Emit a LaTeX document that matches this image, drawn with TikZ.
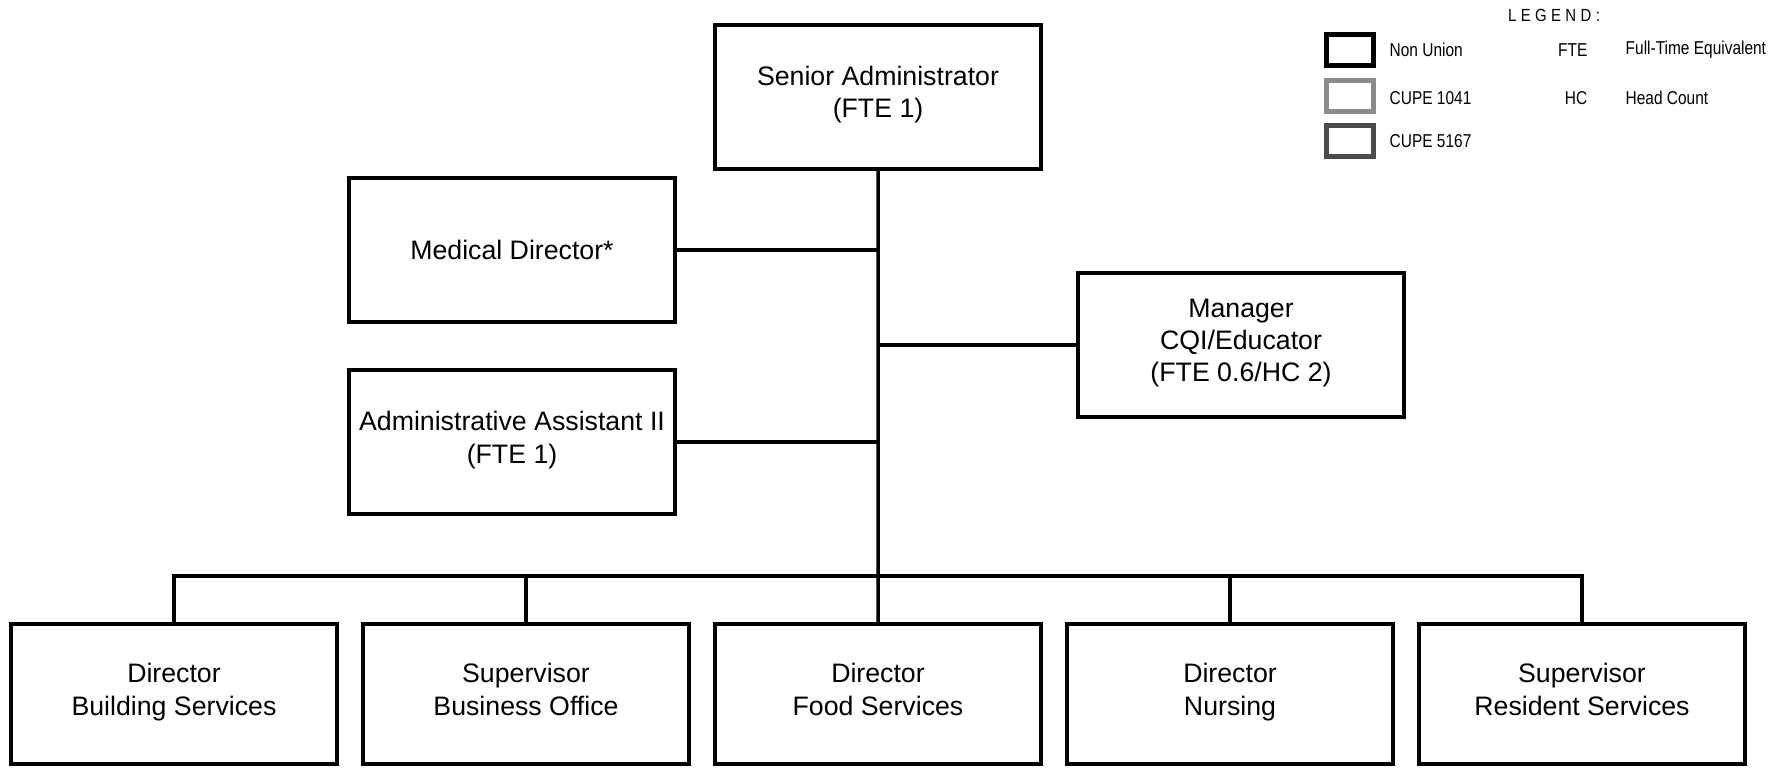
\documentclass[tikz,border=0pt]{standalone}
\usepackage{fontspec}
\setmainfont{Liberation Sans}
\newfontfamily\narrowfont[FakeStretch=0.83]{Liberation Sans}
\newfontfamily\spacedfont[FakeStretch=0.85,LetterSpace=25]{Liberation Sans}
\usepackage{tikz}
\usetikzlibrary{positioning}

\begin{document}
\begin{tikzpicture}[
    x=0.1mm, y=-0.1mm,
    orgbox/.style={rectangle, draw, line width=0.4mm, minimum width=32.6mm, minimum height=14.4mm, inner sep=0pt, outer sep=0pt, align=center, font=\fontsize{7.6}{9.2}\selectfont, execute at begin node=\rule{0pt}{8.4pt}, execute at end node=\strut},
    lowbox/.style={orgbox, minimum height=14mm},
    legbox/.style={rectangle, draw, line width=0.45mm, minimum width=4.7mm, minimum height=3.1mm, inner sep=0pt, outer sep=0pt},
    legtext/.style={font=\narrowfont\fontsize{5.3}{6}\selectfont, inner sep=0pt},
    link/.style={line width=0.35mm}
  ]
    \useasboundingbox (0,0) rectangle (1786,767);

    \node[orgbox] (senior) at (878,97) {Senior Administrator\\(FTE 1)};
    \node[orgbox] (medical) at (512,250) {Medical Director*};
    \node[orgbox, below=4.8mm of medical] (assistant) {Administrative Assistant II\\(FTE 1)};
    \node[orgbox] (manager) at (1241,345) {Manager\\CQI/Educator\\(FTE 0.6/HC 2)};

    \node[lowbox] (building) at (174,694) {Director\\Building Services};
    \node[lowbox, right=2.6mm of building] (business) {Supervisor\\Business Office};
    \node[lowbox, right=2.6mm of business] (food) {Director\\Food Services};
    \node[lowbox, right=2.6mm of food] (nursing) {Director\\Nursing};
    \node[lowbox, right=2.6mm of nursing] (resident) {Supervisor\\Resident Services};

    \coordinate (bus) at (878,576);
    \draw[link] (senior) -- (food);
    \foreach \n in {building,business,nursing,resident}
      \draw[link] (\n.north) |- (bus);
    \draw[link] (medical) -- (medical -| senior);
    \draw[link] (assistant) -- (assistant -| senior);
    \draw[link] (manager) -- (manager -| senior);

    \node[font=\spacedfont\fontsize{5}{6}\selectfont, inner sep=0pt] (legend) at (1554,15) {LEGEND:};
    \node[legbox] (nonunion) at (1350,50) {};
    \node[legbox, draw=black!45] (cupeA) at (1350,96) {};
    \node[legbox, draw=black!70] (cupeB) at (1350,141) {};
    \node[legtext, anchor=west] (nonuniontext) at (1389,50) {Non Union};
    \node[legtext, anchor=west] (cupeAtext) at (1389,98) {CUPE 1041};
    \node[legtext, anchor=west] (cupeBtext) at (1389,141) {CUPE 5167};
    \node[legtext, anchor=east] (fte) at (1588,50) {FTE};
    \node[legtext, anchor=east] (hc) at (1588,98) {HC};
    \node[legtext, anchor=west] (ftetext) at (1625,50) {Full-Time Equivalent};
    \node[legtext, anchor=west] (hctext) at (1625,98) {Head Count};
  \end{tikzpicture}
\end{document}
